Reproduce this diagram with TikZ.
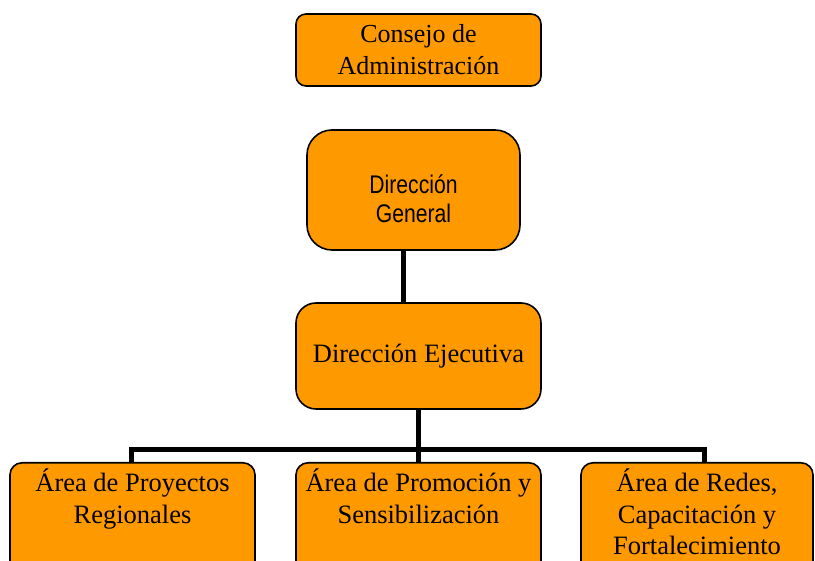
\documentclass[tikz,border=0pt]{standalone}
\usepackage{fontspec}
\setmainfont{Liberation Serif}
\newfontfamily\narrowsans[FakeStretch=0.83]{Liberation Sans}
\usetikzlibrary{positioning}
\definecolor{orgfill}{HTML}{FF9900}
\tikzset{
  unit/.style={draw=black, line width=1.6pt, fill=orgfill, rounded corners=12pt},
  areabox/.style={unit, anchor=north, minimum height=130pt},
  areatext/.style={anchor=north, align=center, inner sep=0pt, font=\fontsize{26.5}{31.5}\selectfont},
  conn/.style={line width=5pt},
}
\begin{document}
\begin{tikzpicture}[x=1pt,y=1pt]
\useasboundingbox (0,0) rectangle (815,561);
\clip (0,0) rectangle (815,561);
% upper levels
\node[unit, rounded corners=10pt, minimum width=245pt, minimum height=72pt, align=center,
  font=\fontsize{26}{32}\selectfont] (consejo) at (418.5,511) {Consejo de\\Administración};
\node[unit, rounded corners=25pt, minimum width=213pt, minimum height=120pt] (general) at (413.5,371) {};
\node[align=center, inner sep=0pt, font=\narrowsans\fontsize{25.5}{29}\selectfont]
  (gtext) at ([yshift=-9pt]general.center) {Dirección\\General};
\node[unit, rounded corners=20pt, minimum width=245pt, minimum height=106pt,
  font=\fontsize{26.5}{31.5}\selectfont] (ejecutiva) at (418.5,205) {Dirección Ejecutiva};
% areas
\node[areabox, minimum width=245pt] (area1) at (132.5,99) {};
\node[areabox, minimum width=245pt] (area2) at (418.5,99) {};
\node[areabox, minimum width=232pt] (area3) at (697,99) {};
\node[areatext] (t1) at ([yshift=-7pt]area1.north) {Área de Proyectos\\Regionales};
\node[areatext] (t2) at ([yshift=-7pt]area2.north) {Área de Promoción y\\Sensibilización};
\node[areatext] (t3) at ([yshift=-7pt]area3.north) {Área de Redes,\\Capacitación y\\Fortalecimiento};
% connectors
\draw[conn] ([xshift=-10.5pt]general.south) -- ([xshift=-15.5pt]ejecutiva.north);
\draw[conn] (ejecutiva.south) -- (area2.north);
\coordinate (barleft) at ([xshift=-1.5pt,yshift=12pt]area1.north);
\coordinate (barright) at ([xshift=7pt,yshift=12pt]area3.north);
\draw[conn] (area1.north -| barleft) -- (barleft) -- (barright) -- (area3.north -| barright);
\end{tikzpicture}
\end{document}
